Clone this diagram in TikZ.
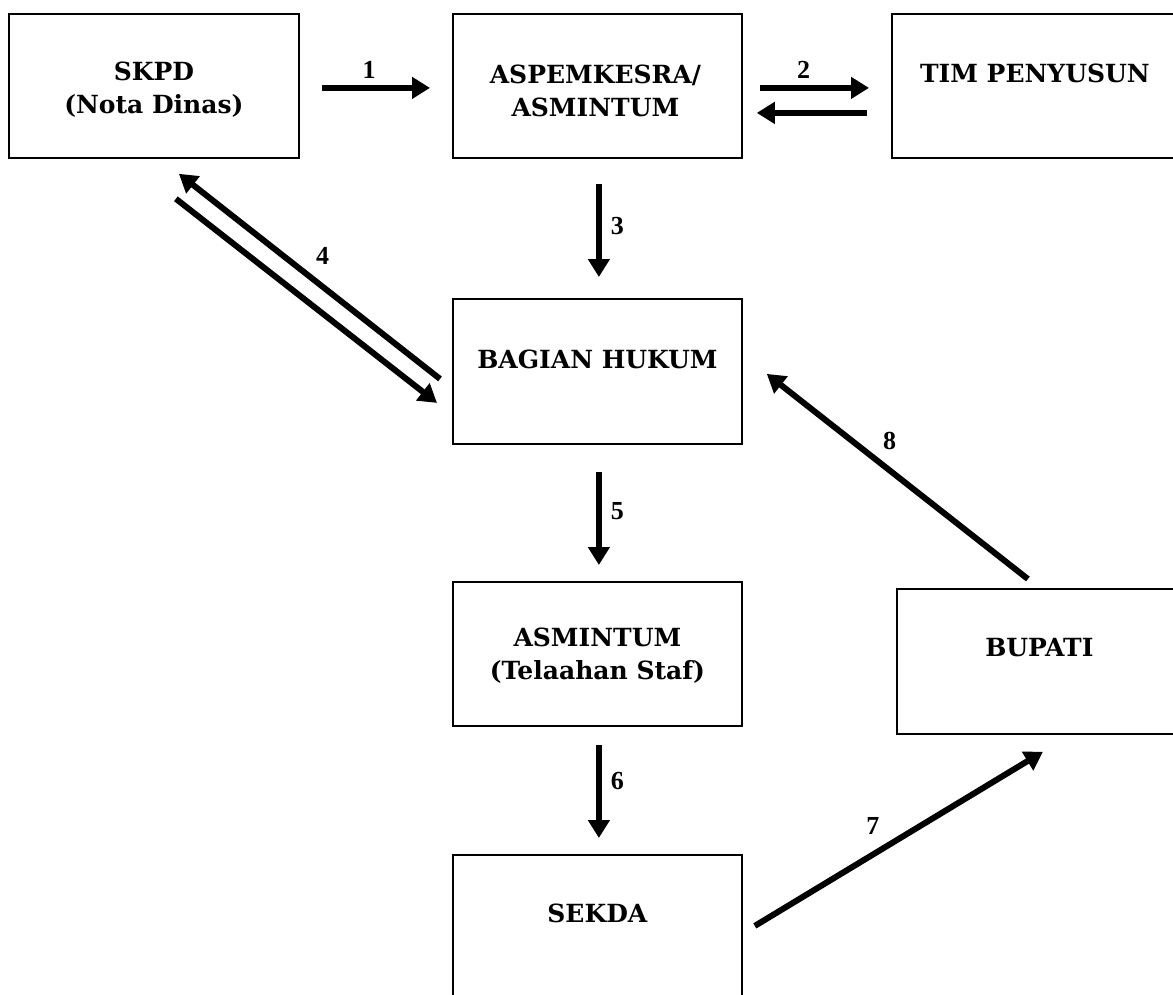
\documentclass[tikz,border=0pt]{standalone}
\usepackage{fontspec}
\setmainfont{DejaVu Serif}
\newfontfamily\numfont{Liberation Serif}
\usetikzlibrary{arrows.meta,positioning,calc}
\tikzset{
  flowbox/.style={draw=black,line width=1.8pt,anchor=north west,inner sep=0pt,
    minimum width=289pt,minimum height=144pt},
  boxtext/.style={font=\fontsize{25}{33}\selectfont\bfseries,align=center,inner sep=0pt},
  flowarrow/.style={-{Triangle[length=18pt,width=21pt]},line width=6pt},
  steplabel/.style={font=\numfont\fontsize{26}{30}\selectfont\bfseries,inner sep=0pt}
}
\begin{document}
\begin{tikzpicture}[x=1pt,y=-1pt]
  \useasboundingbox (0,0) rectangle (1173,994);
  \clip (0,0) rectangle (1173,994);
  % boxes
  \node[flowbox,minimum width=290pt] (skpd) at (8,13) {};
  \node[flowbox] (aspem) at (452,13) {};
  \node[flowbox,minimum width=290pt] (tim) at (891,13) {};
  \node[flowbox,minimum height=145pt] (bagian) at (452,298) {};
  \node[flowbox] (asmintum) at (452,581) {};
  \node[flowbox,minimum height=146pt] (sekda) at (452,854) {};
  \node[flowbox,minimum width=285pt,minimum height=145pt] (bupati) at (896,588) {};
  % box texts
  \node[boxtext] at ([yshift=-77pt]skpd.north) {SKPD\\(Nota Dinas)};
  \node[boxtext] at ([xshift=-2pt,yshift=-78pt]aspem.north) {ASPEMKESRA/\\ASMINTUM};
  \node[boxtext] at ([xshift=-2pt,yshift=-60pt]tim.north) {TIM PENYUSUN};
  \node[boxtext] at ([yshift=-61pt]bagian.north) {BAGIAN HUKUM};
  \node[boxtext] at ([yshift=-75pt]asmintum.north) {ASMINTUM\\(Telaahan Staf)};
  \node[boxtext] at ([yshift=-59pt]sekda.north) {SEKDA};
  \node[boxtext] at ([yshift=-60pt]bupati.north) {BUPATI};
  % arrows
  \draw[flowarrow,shorten <=22pt,shorten >=22pt] ([yshift=-2pt]skpd.east)
    -- node[steplabel,pos=.455,above=6pt] {1} ([yshift=-2pt]aspem.west);
  \draw[flowarrow,shorten <=17pt,shorten >=22pt] ([yshift=-2pt]aspem.east)
    -- node[steplabel,pos=.41,above=6pt] {2} ([yshift=-2pt]tim.west);
  \draw[flowarrow,shorten <=24pt,shorten >=14pt] ([yshift=-27pt]tim.west) -- ([yshift=-27pt]aspem.east);
  \draw[flowarrow,shorten <=25pt,shorten >=21pt] ([xshift=1.5pt]aspem.south)
    -- node[steplabel,pos=.48,right=9pt] {3} ([xshift=1.5pt]bagian.north);
  \draw[flowarrow] ([shift={(-12,7.5)}]bagian.west)
    -- node[steplabel,pos=.45,above=19pt] {4} ([shift={(25,15)}]skpd.south);
  \draw[flowarrow] ([shift={(22,40)}]skpd.south) -- ([shift={(-15,31.5)}]bagian.west);
  \draw[flowarrow,shorten <=27pt,shorten >=16pt] ([xshift=1.5pt]bagian.south)
    -- node[steplabel,pos=.49,right=9pt] {5} ([xshift=1.5pt]asmintum.north);
  \draw[flowarrow,shorten <=18pt,shorten >=16pt] ([xshift=1.5pt]asmintum.south)
    -- node[steplabel,pos=.43,right=9pt] {6} ([xshift=1.5pt]sekda.north);
  \draw[flowarrow] ([shift={(12,-2)}]sekda.east)
    -- node[steplabel,pos=.41,above=17pt] {7} ([shift={(3.5,17)}]bupati.south);
  \draw[flowarrow] ([shift={(-11.5,-9)}]bupati.north)
    -- node[steplabel,pos=.53,above=18pt] {8} ([shift={(24,2.5)}]bagian.east);
\end{tikzpicture}
\end{document}
